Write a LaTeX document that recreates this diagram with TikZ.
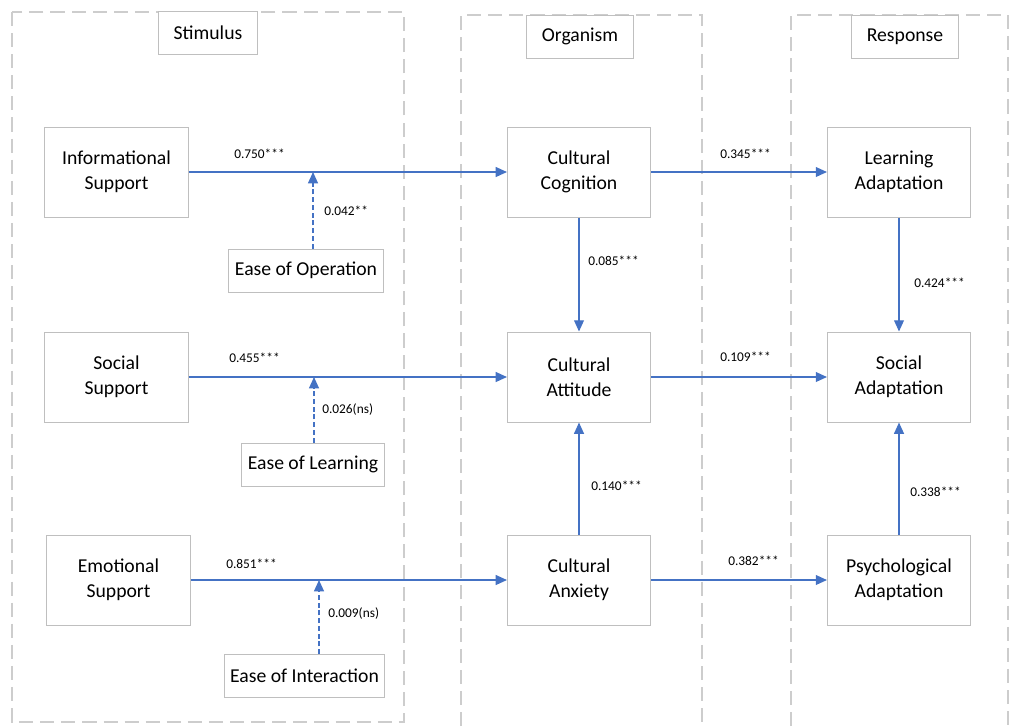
\documentclass[tikz,border=0pt]{standalone}
\usepackage{fontspec}
\setmainfont{Carlito}
\usetikzlibrary{arrows.meta}
\definecolor{pathblue}{RGB}{68,114,196}
\definecolor{boxgray}{RGB}{191,191,191}
\definecolor{groupgray}{RGB}{205,205,205}

\begin{document}
\begin{tikzpicture}[x=0.025cm,y=-0.025cm,>={Triangle[length=8pt,width=7pt]},
  font=\fontsize{14}{17.5}\selectfont,
  stagegroup/.style={draw=groupgray,line width=0.9pt,dash pattern=on 10pt off 5pt},
  construct/.style={draw=boxgray,fill=white,line width=0.7pt,align=center,
    minimum width=3.575cm,minimum height=2.25cm,inner sep=0pt},
  modbox/.style={draw=boxgray,fill=white,line width=0.7pt,minimum height=1.075cm,inner xsep=0.15cm},
  stagebox/.style={draw=boxgray,fill=white,line width=0.7pt,minimum height=1.075cm,inner xsep=0.375cm},
  effect/.style={draw=pathblue,line width=1pt,->},
  modeffect/.style={effect,dash pattern=on 3.5pt off 2pt},
  coef/.style={anchor=west,inner sep=0pt,font=\fontsize{9.5}{11}\selectfont}]
  \useasboundingbox (0,0) rectangle (1017,726);

  % S-O-R stages
  \draw[stagegroup] (12,12) rectangle (404,722);
  \draw[stagegroup] (461,726) -- (461,15) -- (702,15) -- (702,726);
  \draw[stagegroup] (791,726) -- (791,15) -- (1008,15) -- (1008,726);
  \node[stagebox] (stim) at (208,33) {Stimulus};
  \node[stagebox] (org) at (580,36.5) {Organism};
  \node[stagebox] (resp) at (905,36.5) {Response};

  % constructs
  \node[construct] (is) at (116.5,172) {Informational\\Support};
  \node[construct] (ss) at (116.5,377) {Social\\Support};
  \node[construct] (es) at (118.5,580) {Emotional\\Support};
  \node[construct] (cc) at (579,172) {Cultural\\Cognition};
  \node[construct] (ca) at (579,377) {Cultural\\Attitude};
  \node[construct] (cx) at (579,580) {Cultural\\Anxiety};
  \node[construct] (la) at (899,172) {Learning\\Adaptation};
  \node[construct] (sa) at (899,377) {Social\\Adaptation};
  \node[construct] (pa) at (899,580) {Psychological\\Adaptation};

  % moderators
  \node[modbox] (eo) at (306,270.5) {Ease of Operation};
  \node[modbox] (el) at (313,464.5) {Ease of Learning};
  \node[modbox] (ei) at (304.5,676) {Ease of Interaction};
  \coordinate (m1) at (313,172);
  \coordinate (m2) at (314,377);
  \coordinate (m3) at (319,580);

  % paths
  \draw[effect] (is) -- (cc);
  \draw[effect] (ss) -- (ca);
  \draw[effect] (es) -- (cx);
  \draw[effect] (cc) -- (la);
  \draw[effect] (ca) -- (sa);
  \draw[effect] (cx) -- (pa);
  \draw[effect] (cc) -- (ca);
  \draw[effect] (cx) -- (ca);
  \draw[effect] (la) -- (sa);
  \draw[effect] (pa) -- (sa);
  \draw[modeffect] (m1 |- eo.north) -- (m1);
  \draw[modeffect] (m2 |- el.north) -- (m2);
  \draw[modeffect] (m3 |- ei.north) -- (m3);

  % coefficients
  \node[coef] (c1) at (234,154) {0.750***};
  \node[coef] (c2) at (324,211) {0.042**};
  \node[coef] (c3) at (229,358) {0.455***};
  \node[coef] (c4) at (322,410) {0.026(ns)};
  \node[coef] (c5) at (226,564) {0.851***};
  \node[coef] (c6) at (328,614) {0.009(ns)};
  \node[coef] (c7) at (720,154) {0.345***};
  \node[coef] (c8) at (720,357) {0.109***};
  \node[coef] (c9) at (728,561) {0.382***};
  \node[coef] (c10) at (588,261) {0.085***};
  \node[coef] (c11) at (591,486) {0.140***};
  \node[coef] (c12) at (914,283) {0.424***};
  \node[coef] (c13) at (910,492) {0.338***};
\end{tikzpicture}
\end{document}
